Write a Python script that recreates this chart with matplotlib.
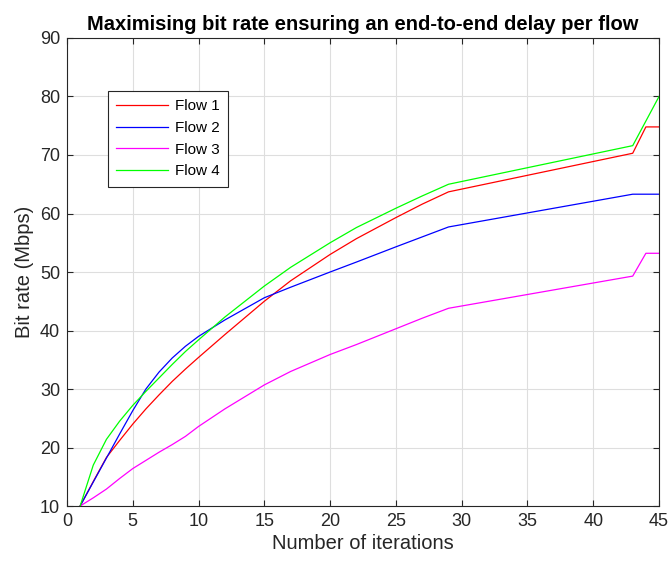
import matplotlib.pyplot as plt

plt.rcParams['font.family'] = ['Liberation Sans', 'DejaVu Sans']

# iteration numbers and bit rates (Mbps)
iters = [1, 2, 3, 4, 5, 6, 7, 8, 9, 10, 12, 15, 17, 20, 22, 25, 27, 29, 43, 44, 45]
flow1 = [10, 14.2, 18.3, 21.2, 24.0, 26.6, 29.0, 31.3, 33.4, 35.4, 39.3, 45.0, 48.5,
         53.0, 55.7, 59.3, 61.6, 63.7, 70.3, 74.8, 74.8]
flow2 = [10, 14.1, 18.2, 22.3, 26.3, 30.0, 32.9, 35.3, 37.3, 39.0, 41.8, 45.6, 47.4,
         50.0, 51.7, 54.3, 56.0, 57.7, 63.3, 63.3, 63.3]
flow3 = [10, 11.4, 12.9, 14.7, 16.4, 17.8, 19.2, 20.5, 21.9, 23.6, 26.6, 30.7, 33.0,
         35.9, 37.6, 40.3, 42.1, 43.8, 49.3, 53.2, 53.2]
flow4 = [10, 17.0, 21.4, 24.5, 27.2, 29.6, 31.9, 34.2, 36.4, 38.4, 42.3, 47.6, 50.8,
         55.0, 57.6, 60.9, 63.0, 65.0, 71.6, 75.8, 80.0]
names = ['Flow 1', 'Flow 2', 'Flow 3', 'Flow 4']
colors = ['#ff0000', '#0000ff', '#ff00ff', '#00ff00']

fig = plt.figure(figsize=(6.69, 5.62), dpi=100)
ax = fig.add_axes([0.1001, 0.0996, 0.885, 0.8328])

for ys, name, c in zip([flow1, flow2, flow3, flow4], names, colors):
    ax.plot(iters, ys, color=c, lw=0.9, label=name)

ax.set_xlim(0, 45)
ax.set_ylim(10, 90)
ax.set_xticks(range(0, 46, 5))
ax.set_yticks(range(10, 91, 10))
ax.grid(True, color='#dedede', lw=0.8)
ax.set_axisbelow(True)
ax.tick_params(direction='in', top=True, right=True, labelsize=13, colors='#262626',
               length=4, width=0.8, pad=5)
for s in ax.spines.values():
    s.set_color('#262626')
    s.set_linewidth(0.8)

ax.set_xlabel('Number of iterations', fontsize=14.5, color='#262626', labelpad=3)
ax.set_ylabel('Bit rate (Mbps)', fontsize=14.5, color='#262626', labelpad=4)
ax.set_title('Maximising bit rate ensuring an end-to-end delay per flow',
             fontsize=14.5, fontweight='bold', pad=6)

leg = ax.legend(loc='upper left', bbox_to_anchor=(0.069, 0.887), fontsize=11,
                fancybox=False, framealpha=1, edgecolor='#262626',
                handlelength=3.4, handletextpad=0.45, borderpad=0.55,
                labelspacing=0.5, borderaxespad=0)
leg.get_frame().set_linewidth(0.8)

fig.savefig('out.png', dpi=100)
